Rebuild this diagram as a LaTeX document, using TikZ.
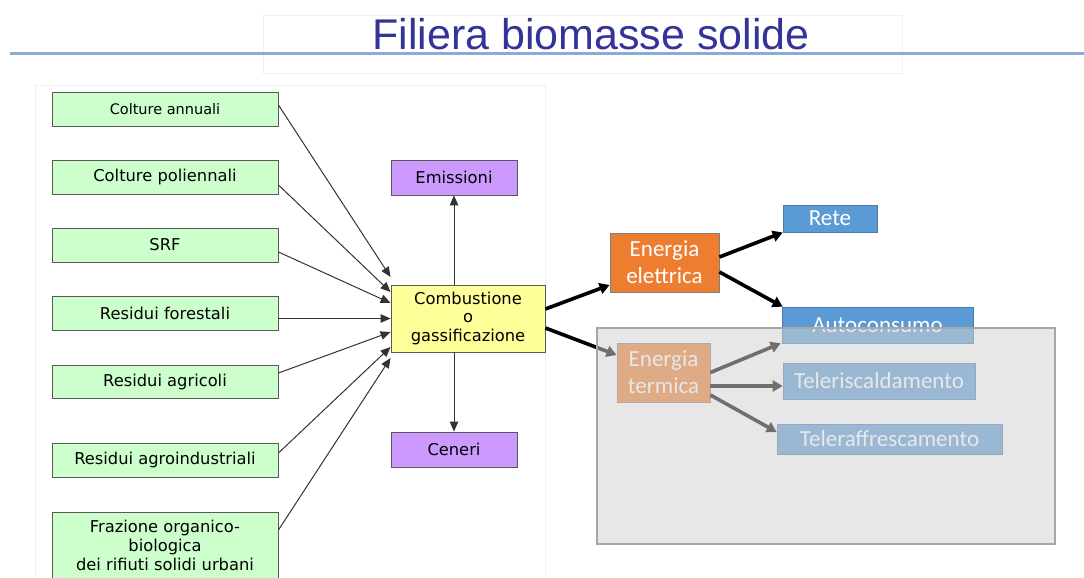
\documentclass[tikz,border=0pt]{standalone}
\usepackage{fontspec}
\setmainfont{DejaVu Sans}
\newfontfamily\titlefont{Liberation Sans}
\newfontfamily\calfont{Carlito}
\usetikzlibrary{arrows.meta,calc}
\definecolor{titleblue}{HTML}{333399}
\definecolor{rulecol}{HTML}{8EA8D8}
\definecolor{greenfill}{HTML}{CCFFCC}
\definecolor{purplefill}{HTML}{CC99FF}
\definecolor{yellowfill}{HTML}{FFFF99}
\definecolor{orangefill}{HTML}{ED7D31}
\definecolor{bluefill}{HTML}{5B9BD5}
\definecolor{boxline}{HTML}{5A5A5A}
\definecolor{faint}{HTML}{F0F0F0}
\definecolor{overlayfill}{HTML}{D3D3D3}
\tikzset{
  srcbox/.style={draw=boxline, line width=0.9pt, fill=greenfill, minimum width=226pt, minimum height=34pt, inner sep=0pt, align=center, font=\fontsize{16.3}{20}\selectfont},
  outbox/.style={draw=boxline, line width=0.9pt, fill=purplefill, minimum width=126pt, minimum height=35pt, inner sep=0pt, font=\fontsize{16.3}{20}\selectfont},
  procbox/.style={draw=boxline, line width=0.9pt, fill=yellowfill, minimum width=154pt, minimum height=67pt, inner sep=0pt, align=center, font=\fontsize{16.3}{18.5}\selectfont},
  enbox/.style={draw=gray, line width=0.8pt, fill=orangefill, text=white, inner sep=0pt, align=center, font=\calfont\fontsize{23}{27}\selectfont},
  usebox/.style={draw=bluefill!80!black, line width=0.6pt, fill=bluefill, text=white, inner sep=0pt, font=\calfont\fontsize{23}{27}\selectfont},
  thinarrow/.style={draw=black!80, line width=1pt, -{Triangle[length=10pt,width=8.5pt]}},
  thickarrow/.style={draw=black, line width=3.6pt, -{Triangle[length=10pt,width=11pt]}},
}
\begin{document}
\begin{tikzpicture}[x=1pt,y=-1pt]
\useasboundingbox (0,0) rectangle (1084,578);
\fill[white] (0,0) rectangle (1084,578);
% faint frames
\draw[faint, line width=0.8pt] (263,15) rectangle (902,73);
\draw[faint, line width=0.8pt] (35,85) rectangle (545,590);
% title and rule
\node[font=\titlefont\fontsize{43}{48}\selectfont, text=titleblue, anchor=base] (title) at (591,49) {Filiera biomasse solide};
\draw[rulecol, line width=3pt] (10,54) -- (1084,54);
% source boxes
\node[srcbox, font=\fontsize{14.5}{18}\selectfont] (ga) at (165,109) {Colture annuali};
\node[srcbox] (gp) at (165,177) {Colture poliennali};
\node[srcbox] (srf) at (165,245) {SRF};
\node[srcbox] (rf) at (165,313) {Residui forestali};
\node[srcbox, minimum height=33pt] (ra) at (165,381.5) {Residui agricoli};
\node[srcbox] (ri) at (165,460) {Residui agroindustriali};
\node[srcbox, minimum height=66pt, font=\fontsize{16.3}{19}\selectfont] (fr) at (165,545) {Frazione organico-\\biologica\\dei rifiuti solidi urbani};
% process
\node[procbox] (comb) at (468,318.5) {Combustione\\o\\gassificazione};
\node[outbox] (emi) at (454,177.5) {Emissioni};
\node[outbox] (cen) at (454,449.5) {Ceneri};
% energy
\node[enbox, minimum width=109pt, minimum height=59pt] (ee) at (664.5,262.5) {Energia\\elettrica};
\node[enbox, minimum width=93pt, minimum height=59pt] (et) at (663.5,372.5) {Energia\\termica};
\node[usebox, minimum width=94pt, minimum height=27pt] (rete) at (830,218.5) {Rete};
\node[usebox, minimum width=191pt, minimum height=36pt] (auto) at (877.5,325) {Autoconsumo};
\node[usebox, minimum width=192pt, minimum height=36pt] (tr) at (879,381) {Teleriscaldamento};
\node[usebox, minimum width=225pt, minimum height=30pt] (tf) at (889.5,439) {Teleraffrescamento};
% left arrows
\draw[thinarrow] ([yshift=4pt]ga.east) -- ([yshift=41.5pt]comb.west);
\draw[thinarrow] ([yshift=-8pt]gp.east) -- ([yshift=26.5pt]comb.west);
\draw[thinarrow] ([yshift=-7pt]srf.east) -- ([yshift=15.5pt]comb.west);
\draw[thinarrow] ([yshift=-5.5pt]rf.east) -- (comb.west);
\draw[thinarrow] ([yshift=8.5pt]ra.east) -- ([yshift=-13.5pt]comb.west);
\draw[thinarrow] ([yshift=7pt]ri.east) -- ([yshift=-28.5pt]comb.west);
\draw[thinarrow] ([yshift=15pt]fr.east) -- ([yshift=-39.5pt]comb.west);
% vertical arrows
\draw[thinarrow] (emi.south |- comb.north) -- (emi.south);
\draw[thinarrow] (cen.north |- comb.south) -- (cen.north);
% right arrows
\draw[thickarrow] ([yshift=9.5pt]comb.east) -- ([yshift=-22.5pt]ee.west);
\draw[thickarrow] ([yshift=-9.5pt]comb.east) -- ([yshift=17.5pt]et.west);
\draw[thickarrow] ([yshift=5.5pt]ee.east) -- ([yshift=-14pt]rete.west);
\draw[thickarrow] ([yshift=-9.5pt]ee.east) -- ([xshift=1pt]auto.north west);
\draw[thickarrow] (et.east) -- ([xshift=-1pt]auto.south west);
\draw[thickarrow] ([yshift=-13.5pt]et.east) -- ([yshift=-5pt]tr.west);
\draw[thickarrow] ([yshift=-22.5pt]et.east) -- ([yshift=7pt]tf.west);
% translucent overlay
\fill[overlayfill, opacity=0.53] (597,328) rectangle (1055,544);
\draw[black!35, line width=1.2pt] (597,328) rectangle (1055,544);
\end{tikzpicture}
\end{document}
